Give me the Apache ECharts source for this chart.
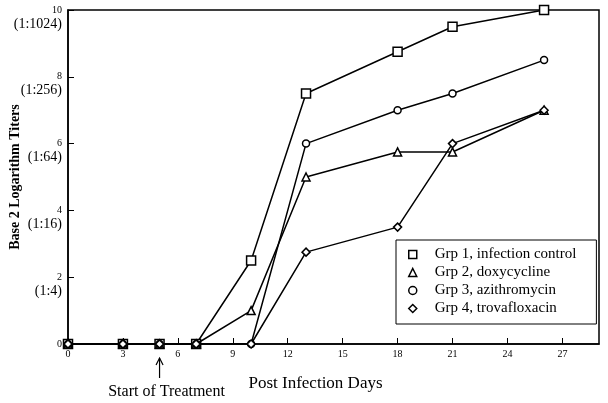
<!DOCTYPE html>
<html>
<head>
<meta charset="utf-8">
<script src="https://cdn.jsdelivr.net/npm/echarts@6/dist/echarts.min.js"></script>
<style>
  html, body { margin: 0; padding: 0; background: #fff; }
  #chart { width: 608px; height: 403px; }
</style>
</head>
<body>
<div id="chart"></div>
<script>
// post infection days
const days = [0, 3, 5, 7, 10, 13, 18, 21, 26];
const grp1 = [0, 0, 0, 0, 2.5, 7.5, 8.75, 9.5, 10];
const grp2 = [0, 0, 0, 0, 1, 5, 5.75, 5.75, 7];
const grp3 = [0, 0, 0, 0, 0, 6, 7, 7.5, 8.5];
const grp4 = [0, 0, 0, 0, 0, 2.75, 3.5, 6, 7];
const seriesNames = ['Grp 1, infection control', 'Grp 2, doxycycline', 'Grp 3, azithromycin', 'Grp 4, trovafloxacin'];
const seriesSymbols = ['rect', 'triangle', 'circle', 'diamond'];
const symbolSizes = [9, 8, 7, 8];
const yTicks = [0, 2, 4, 6, 8, 10];
const yRatios = ['', '(1:4)', '(1:16)', '(1:64)', '(1:256)', '(1:1024)'];
const treatmentDay = 5;

const serif = 'Liberation Serif';
let chart = echarts.init(document.getElementById('chart'));

let allValues = [grp1, grp2, grp3, grp4];
let series = allValues.map((vals, idx) => {
    return {
        name: seriesNames[idx],
        type: 'line',
        data: days.map((d, i) => [d, vals[i]]),
        symbol: seriesSymbols[idx],
        symbolSize: symbolSizes[idx],
        showAllSymbol: true,
        z: 2 + idx,
        lineStyle: { color: '#000', width: 1.5 },
        itemStyle: { color: '#fff', borderColor: '#000', borderWidth: 1.5 }
    };
});

let option = {
    animation: false,
    textStyle: { fontFamily: serif, color: '#000' },
    grid: {
        left: 68,
        right: 9,
        top: 10,
        bottom: 59,
        containLabel: false,
        outerBoundsMode: 'none',
        show: true,
        borderColor: '#000',
        borderWidth: 1.5
    },
    legend: {
        orient: 'vertical',
        left: 396,
        top: 240,
        padding: [7, 20, 8, 12],
        itemGap: 3,
        itemWidth: 8,
        itemHeight: 8,
        borderColor: '#000',
        borderWidth: 1,
        backgroundColor: '#fff',
        data: seriesNames.map((n, i) => ({ name: n, icon: seriesSymbols[i] })),
        itemStyle: { color: '#fff', borderColor: '#000', borderWidth: 1.5 },
        lineStyle: { width: 0 },
        textStyle: { fontFamily: serif, fontSize: 15, color: '#000', padding: [0, 0, 0, 13] }
    },
    xAxis: {
        type: 'value',
        min: 0,
        max: 29,
        interval: 3,
        name: 'Post Infection Days',
        nameLocation: 'middle',
        nameGap: 31,
        nameMoveOverlap: false,
        nameTextStyle: { fontFamily: serif, fontSize: 17, color: '#000', padding: [0, 36, 0, 0] },
        axisLine: { lineStyle: { color: '#000', width: 1.5 } },
        axisTick: { inside: true, length: 6, lineStyle: { color: '#000', width: 1 } },
        splitLine: { show: false },
        axisLabel: {
            margin: 5,
            fontSize: 10,
            color: '#000',
            fontFamily: serif,
            showMaxLabel: false,
            formatter: v => (v % 3 === 0 ? String(v) : '')
        }
    },
    yAxis: {
        type: 'value',
        min: 0,
        max: 10,
        interval: 2,
        name: 'Base 2 Logarithm Titers',
        nameLocation: 'middle',
        nameGap: 46,
        nameMoveOverlap: false,
        nameTextStyle: { fontFamily: serif, fontSize: 14, fontWeight: 'bold', color: '#000' },
        axisLine: { lineStyle: { color: '#000', width: 1.5 } },
        axisTick: { inside: true, length: 6, lineStyle: { color: '#000', width: 1 } },
        splitLine: { show: false },
        axisLabel: {
            margin: 6,
            color: '#000',
            fontFamily: serif,
            align: 'right',
            verticalAlign: 'middle',
            formatter: function(value) {
                let idx = yTicks.indexOf(value);
                if (idx <= 0) {
                    return '{n|' + value + '}';
                }
                return '{s| }\n{n|' + value + '}\n{r|' + yRatios[idx] + '}';
            },
            rich: {
                n: { fontSize: 10, lineHeight: 12, fontFamily: serif, color: '#000', align: 'right' },
                r: { fontSize: 14, lineHeight: 16, fontFamily: serif, color: '#000', align: 'right' },
                s: { fontSize: 14, lineHeight: 16, fontFamily: serif, align: 'right' }
            }
        }
    },
    series: series
};
chart.setOption(option);

// arrow + caption for start of treatment
let p = chart.convertToPixel({ gridIndex: 0 }, [treatmentDay, 0]);
chart.setOption({
    graphic: [
        {
            type: 'line',
            shape: { x1: p[0], y1: p[1] + 14, x2: p[0], y2: p[1] + 34 },
            style: { stroke: '#000', lineWidth: 1.2 }
        },
        {
            type: 'polyline',
            shape: { points: [[p[0] - 3.5, p[1] + 21], [p[0], p[1] + 14], [p[0] + 3.5, p[1] + 21]] },
            style: { stroke: '#000', fill: null, lineWidth: 1.2 }
        },
        {
            type: 'text',
            x: p[0] + 7,
            y: p[1] + 48,
            style: {
                text: 'Start of Treatment',
                fontFamily: serif,
                fontSize: 16,
                fill: '#000',
                align: 'center',
                verticalAlign: 'middle'
            }
        }
    ]
});
</script>
</body>
</html>
